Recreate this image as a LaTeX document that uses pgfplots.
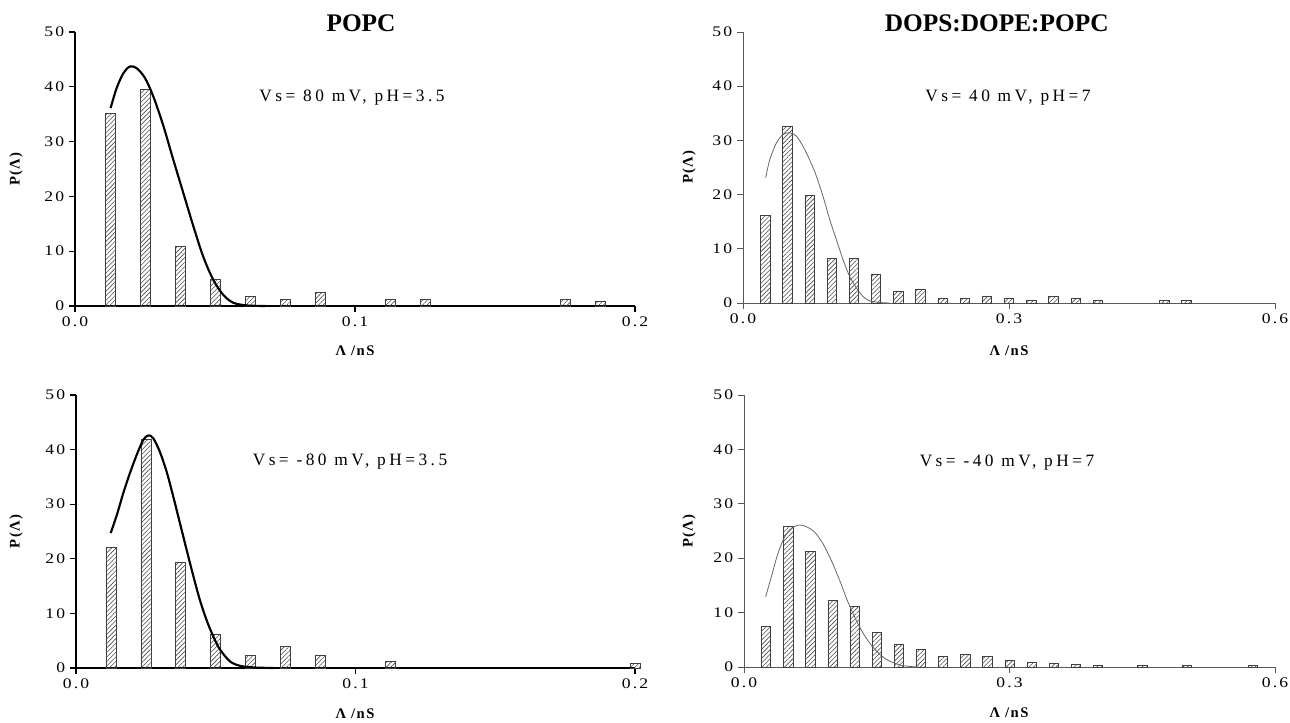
\documentclass[border=0pt]{standalone}
\usepackage{fontspec}
\setmainfont{Liberation Serif}
\newfontfamily\tickfont[LetterSpace=15,FakeStretch=1.2]{Liberation Serif}
\newfontfamily\annfont[LetterSpace=20]{Liberation Serif}
\newfontfamily\labfont[LetterSpace=10]{Liberation Serif}
\usepackage{pgfplots}
\pgfplotsset{compat=1.18}
\usetikzlibrary{patterns.meta}

\pgfplotsset{
  panel/.style={
    scale only axis, anchor=south west,
    axis x line*=bottom, axis y line*=left,
    ymin=0, ymax=50, ytick={0,10,...,50},
    tick align=outside, major tick length=4.5pt,
    minor tick num=0,
    tick label style={font=\tickfont\fontsize{11}{13}\selectfont},
    /pgf/number format/assume math mode=true,
    scaled x ticks=false,
    xticklabel style={/pgf/number format/fixed,/pgf/number format/fixed zerofill,/pgf/number format/precision=1},
    clip=false,
  },
  leftpanel/.style={panel, axis line style={-,black,line width=0.8pt}, tick style={black,line width=0.8pt},
    xmin=0, xmax=0.2, xtick={0,0.1,0.2}},
  rightpanel/.style={panel, axis line style={-,black!65,line width=0.6pt}, tick style={black!65,line width=0.6pt},
    xmin=0, xmax=0.6, xtick={0,0.3,0.6}},
  hist/.style={ybar, bar shift=0pt, bar width=#1, draw=black!75, line width=0.5pt,
    pattern={Lines[angle=45,distance=2.4pt,line width=0.45pt]}, pattern color=black!70},
}

\begin{document}
\begin{tikzpicture}
\useasboundingbox (0,0) rectangle (967.5pt,542.25pt);

% ---------------- top left: POPC, Vs=80 mV
\begin{axis}[leftpanel, at={(56.25pt,312.75pt)}, width=420pt, height=205.5pt]
\addplot[hist=7.5pt] coordinates {
(0.0125,35.2) (0.025,39.5) (0.0375,10.8) (0.05,4.9) (0.0625,1.8) (0.075,1.2)
(0.0875,2.5) (0.1125,1.2) (0.125,1.2) (0.175,1.2) (0.1875,0.9)};
\addplot[black, line width=1.6pt, smooth] coordinates {
(0.0127,36.1) (0.0149,39.8) (0.0173,42.5) (0.0196,43.7) (0.0220,43.4) (0.0250,41.6)
(0.0280,38.2) (0.0316,32.8) (0.0351,26.7) (0.0387,20.6) (0.0423,14.5) (0.0458,9.0)
(0.0494,4.75) (0.0530,2.0) (0.0565,0.6) (0.0613,0.1) (0.068,0.0)};
\end{axis}

% ---------------- top right: DOPS:DOPE:POPC, Vs=40 mV
\begin{axis}[rightpanel, at={(557.25pt,315pt)}, width=399pt, height=203.25pt]
\addplot[hist=7pt] coordinates {
(0.025,16.1) (0.05,32.6) (0.075,19.9) (0.1,8.2) (0.125,8.3) (0.15,5.3) (0.175,2.2)
(0.2,2.6) (0.225,0.8) (0.25,0.8) (0.275,1.3) (0.3,0.8) (0.325,0.5) (0.35,1.2)
(0.375,0.8) (0.4,0.5) (0.475,0.4) (0.5,0.5)};
\addplot[black!60, line width=0.6pt, smooth] coordinates {
(0.0256,23.1) (0.0301,26.4) (0.0376,29.5) (0.0451,31.1) (0.0527,31.4) (0.0602,30.8)
(0.0677,28.9) (0.0752,26.4) (0.0828,23.4) (0.0902,19.7) (0.0978,15.4) (0.1053,11.7)
(0.1128,8.0) (0.1203,4.9) (0.1279,2.8) (0.1353,1.2) (0.1429,0.4) (0.154,0.1) (0.165,0.0)};
\end{axis}

% ---------------- bottom left: POPC, Vs=-80 mV
\begin{axis}[leftpanel, at={(57pt,41.25pt)}, width=419.25pt, height=204.75pt]
\addplot[hist=7.5pt] coordinates {
(0.0125,22.1) (0.025,41.8) (0.0375,19.4) (0.05,6.2) (0.0625,2.3) (0.075,4.0)
(0.0875,2.4) (0.1125,1.2) (0.2,0.8)};
\addplot[black, line width=1.6pt, smooth] coordinates {
(0.0124,24.7) (0.0146,28.0) (0.0169,32.0) (0.0193,35.7) (0.0217,39.0) (0.0241,41.8)
(0.0259,42.6) (0.0276,42.1) (0.0300,39.6) (0.0324,36.0) (0.0348,31.4) (0.0372,26.5)
(0.0396,21.6) (0.0420,16.8) (0.0443,12.5) (0.0467,8.8) (0.0491,5.8) (0.0515,3.4)
(0.0551,1.2) (0.0587,0.4) (0.0634,0.1) (0.0706,0.0)};
\end{axis}

% ---------------- bottom right: DOPS:DOPE:POPC, Vs=-40 mV
\begin{axis}[rightpanel, at={(558pt,42pt)}, width=398.25pt, height=204pt]
\addplot[hist=7pt] coordinates {
(0.025,7.5) (0.05,25.9) (0.075,21.2) (0.1,12.3) (0.125,11.2) (0.15,6.4) (0.175,4.1)
(0.2,3.2) (0.225,2.0) (0.25,2.3) (0.275,2.0) (0.3,1.2) (0.325,0.9) (0.35,0.6)
(0.375,0.4) (0.4,0.3) (0.45,0.25) (0.5,0.25) (0.575,0.25)};
\addplot[black!60, line width=0.6pt, smooth] coordinates {
(0.0245,12.9) (0.0309,16.6) (0.0384,20.9) (0.0459,23.9) (0.0535,25.5) (0.0628,26.1)
(0.0704,25.8) (0.0797,24.8) (0.0891,22.7) (0.0986,19.6) (0.1079,16.0) (0.1173,12.0)
(0.1268,8.6) (0.1361,5.8) (0.1455,3.7) (0.1550,2.1) (0.1643,1.1) (0.1756,0.4)
(0.1869,0.1) (0.198,0.0)};
\end{axis}

% ---------------- titles
\node[font=\bfseries\fontsize{19}{22}\selectfont] at (270.75pt,525pt) {POPC};
\node[font=\bfseries\fontsize{19}{22}\selectfont] at (747.5pt,525pt) {DOPS:DOPE:POPC};

% ---------------- annotations
\node[font=\annfont\fontsize{13}{15}\selectfont] at (264pt,468.75pt) {Vs= 80 mV, pH=3.5};
\node[font=\annfont\fontsize{13}{15}\selectfont] at (756pt,468.75pt) {Vs= 40 mV,  pH=7};
\node[font=\annfont\fontsize{13}{15}\selectfont] at (262.5pt,195.75pt) {Vs= -80 mV, pH=3.5};
\node[font=\annfont\fontsize{13}{15}\selectfont] at (755.25pt,195pt) {Vs= -40 mV, pH=7};

% ---------------- axis labels
\node[font=\labfont\bfseries\fontsize{11}{13}\selectfont, rotate=90] at (12pt,415.5pt) {P(Λ)};
\node[font=\labfont\bfseries\fontsize{11}{13}\selectfont, rotate=90] at (12pt,143.6pt) {P(Λ)};
\node[font=\labfont\bfseries\fontsize{11}{13}\selectfont, rotate=90] at (516.75pt,417pt) {P(Λ)};
\node[font=\labfont\bfseries\fontsize{11}{13}\selectfont, rotate=90] at (516.75pt,144pt) {P(Λ)};
\node[font=\labfont\bfseries\fontsize{11}{13}\selectfont] at (266.25pt,279pt) {Λ /nS};
\node[font=\labfont\bfseries\fontsize{11}{13}\selectfont] at (756.75pt,279pt) {Λ /nS};
\node[font=\labfont\bfseries\fontsize{11}{13}\selectfont] at (266.25pt,7pt) {Λ /nS};
\node[font=\labfont\bfseries\fontsize{11}{13}\selectfont] at (756.75pt,7.5pt) {Λ /nS};
\end{tikzpicture}
\end{document}
